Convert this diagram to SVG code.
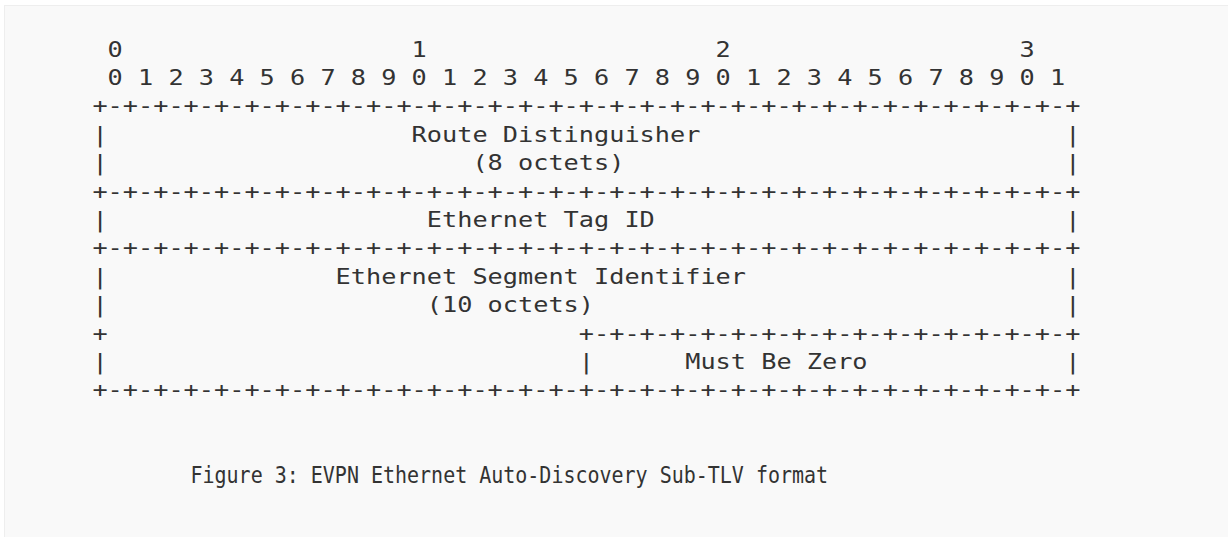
<svg xmlns="http://www.w3.org/2000/svg" width="1228" height="537" viewBox="0 0 1228 537">
<style>
.t{font-family:"DejaVu Sans Mono","Liberation Mono",monospace;font-size:21.5px;fill:#333}
.c{font-family:"DejaVu Sans Mono","Liberation Mono",monospace;font-size:23px;fill:#333}
</style>
<rect x="0" y="0" width="1228" height="537" fill="#ffffff"/>
<rect x="4.5" y="5.5" width="1240" height="550" fill="#f9f9f9" stroke="#eeeeee" stroke-width="1"/>
<g id="bit-ruler">
<text class="t" x="107.6" y="56.5" textLength="15.2" lengthAdjust="spacingAndGlyphs">0</text>
<text class="t" x="411.6" y="56.5" textLength="15.2" lengthAdjust="spacingAndGlyphs">1</text>
<text class="t" x="715.6" y="56.5" textLength="15.2" lengthAdjust="spacingAndGlyphs">2</text>
<text class="t" x="1019.6" y="56.5" textLength="15.2" lengthAdjust="spacingAndGlyphs">3</text>
<text class="t" x="107.6" y="84.9" textLength="957.6" lengthAdjust="spacingAndGlyphs">0 1 2 3 4 5 6 7 8 9 0 1 2 3 4 5 6 7 8 9 0 1 2 3 4 5 6 7 8 9 0 1</text>
</g>
<g id="border-lines">
<text class="t" x="92.4" y="113.3" textLength="988" lengthAdjust="spacingAndGlyphs">+-+-+-+-+-+-+-+-+-+-+-+-+-+-+-+-+-+-+-+-+-+-+-+-+-+-+-+-+-+-+-+-+</text>
<text class="t" x="92.4" y="198.5" textLength="988" lengthAdjust="spacingAndGlyphs">+-+-+-+-+-+-+-+-+-+-+-+-+-+-+-+-+-+-+-+-+-+-+-+-+-+-+-+-+-+-+-+-+</text>
<text class="t" x="92.4" y="255.3" textLength="988" lengthAdjust="spacingAndGlyphs">+-+-+-+-+-+-+-+-+-+-+-+-+-+-+-+-+-+-+-+-+-+-+-+-+-+-+-+-+-+-+-+-+</text>
<text class="t" x="92.4" y="340.5" textLength="15.2" lengthAdjust="spacingAndGlyphs">+</text>
<text class="t" x="578.8" y="340.5" textLength="501.6" lengthAdjust="spacingAndGlyphs">+-+-+-+-+-+-+-+-+-+-+-+-+-+-+-+-+</text>
<text class="t" x="92.4" y="397.3" textLength="988" lengthAdjust="spacingAndGlyphs">+-+-+-+-+-+-+-+-+-+-+-+-+-+-+-+-+-+-+-+-+-+-+-+-+-+-+-+-+-+-+-+-+</text>
</g>
<g id="side-bars">
<text class="t" x="92.4" y="141.7" textLength="15.2" lengthAdjust="spacingAndGlyphs">|</text>
<text class="t" x="1065.2" y="141.7" textLength="15.2" lengthAdjust="spacingAndGlyphs">|</text>
<text class="t" x="92.4" y="170.1" textLength="15.2" lengthAdjust="spacingAndGlyphs">|</text>
<text class="t" x="1065.2" y="170.1" textLength="15.2" lengthAdjust="spacingAndGlyphs">|</text>
<text class="t" x="92.4" y="226.9" textLength="15.2" lengthAdjust="spacingAndGlyphs">|</text>
<text class="t" x="1065.2" y="226.9" textLength="15.2" lengthAdjust="spacingAndGlyphs">|</text>
<text class="t" x="92.4" y="283.7" textLength="15.2" lengthAdjust="spacingAndGlyphs">|</text>
<text class="t" x="1065.2" y="283.7" textLength="15.2" lengthAdjust="spacingAndGlyphs">|</text>
<text class="t" x="92.4" y="312.1" textLength="15.2" lengthAdjust="spacingAndGlyphs">|</text>
<text class="t" x="1065.2" y="312.1" textLength="15.2" lengthAdjust="spacingAndGlyphs">|</text>
<text class="t" x="92.4" y="368.9" textLength="15.2" lengthAdjust="spacingAndGlyphs">|</text>
<text class="t" x="578.8" y="368.9" textLength="15.2" lengthAdjust="spacingAndGlyphs">|</text>
<text class="t" x="1065.2" y="368.9" textLength="15.2" lengthAdjust="spacingAndGlyphs">|</text>
</g>
<g id="field-route-distinguisher">
<text class="t" x="411.6" y="141.7" textLength="288.8" lengthAdjust="spacingAndGlyphs">Route Distinguisher</text>
<text class="t" x="472.4" y="170.1" textLength="152" lengthAdjust="spacingAndGlyphs">(8 octets)</text>
</g>
<g id="field-ethernet-tag-id">
<text class="t" x="426.8" y="226.9" textLength="228" lengthAdjust="spacingAndGlyphs">Ethernet Tag ID</text>
</g>
<g id="field-esi">
<text class="t" x="335.6" y="283.7" textLength="410.4" lengthAdjust="spacingAndGlyphs">Ethernet Segment Identifier</text>
<text class="t" x="426.8" y="312.1" textLength="167.2" lengthAdjust="spacingAndGlyphs">(10 octets)</text>
</g>
<g id="field-mbz">
<text class="t" x="685.2" y="368.9" textLength="182.4" lengthAdjust="spacingAndGlyphs">Must Be Zero</text>
</g>
<g id="caption">
<text class="c" x="190.5" y="483.3" textLength="637.6" lengthAdjust="spacingAndGlyphs">Figure 3: EVPN Ethernet Auto-Discovery Sub-TLV format</text>
</g>
</svg>
